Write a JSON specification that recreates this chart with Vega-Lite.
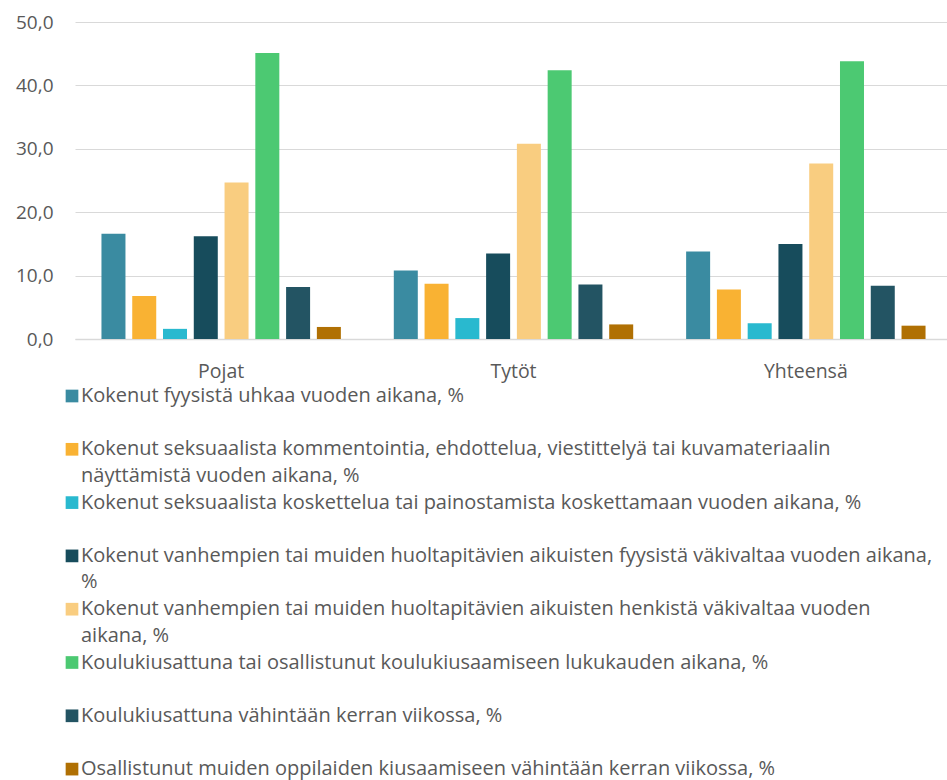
{
  "$schema": "https://vega.github.io/schema/vega-lite/v6.json",
  "width": 872,
  "height": 317,
  "padding": {"left": 5, "top": 13, "right": 0, "bottom": 0},
  "background": "white",
  "data": {
    "values": [
      {"group": "Pojat", "series": "Kokenut fyysistä uhkaa vuoden aikana, %", "value": 16.6},
      {"group": "Pojat", "series": "Kokenut seksuaalista kommentointia, ehdottelua, viestittelyä tai kuvamateriaalin näyttämistä vuoden aikana, %", "value": 6.8},
      {"group": "Pojat", "series": "Kokenut seksuaalista koskettelua tai painostamista koskettamaan vuoden aikana, %", "value": 1.6},
      {"group": "Pojat", "series": "Kokenut vanhempien tai muiden huoltapitävien aikuisten fyysistä väkivaltaa vuoden aikana, %", "value": 16.2},
      {"group": "Pojat", "series": "Kokenut vanhempien tai muiden huoltapitävien aikuisten henkistä väkivaltaa vuoden aikana, %", "value": 24.7},
      {"group": "Pojat", "series": "Koulukiusattuna tai osallistunut koulukiusaamiseen lukukauden aikana, %", "value": 45.1},
      {"group": "Pojat", "series": "Koulukiusattuna vähintään kerran viikossa, %", "value": 8.2},
      {"group": "Pojat", "series": "Osallistunut muiden oppilaiden kiusaamiseen vähintään kerran viikossa, %", "value": 1.9},
      {"group": "Tytöt", "series": "Kokenut fyysistä uhkaa vuoden aikana, %", "value": 10.8},
      {"group": "Tytöt", "series": "Kokenut seksuaalista kommentointia, ehdottelua, viestittelyä tai kuvamateriaalin näyttämistä vuoden aikana, %", "value": 8.7},
      {"group": "Tytöt", "series": "Kokenut seksuaalista koskettelua tai painostamista koskettamaan vuoden aikana, %", "value": 3.3},
      {"group": "Tytöt", "series": "Kokenut vanhempien tai muiden huoltapitävien aikuisten fyysistä väkivaltaa vuoden aikana, %", "value": 13.5},
      {"group": "Tytöt", "series": "Kokenut vanhempien tai muiden huoltapitävien aikuisten henkistä väkivaltaa vuoden aikana, %", "value": 30.8},
      {"group": "Tytöt", "series": "Koulukiusattuna tai osallistunut koulukiusaamiseen lukukauden aikana, %", "value": 42.4},
      {"group": "Tytöt", "series": "Koulukiusattuna vähintään kerran viikossa, %", "value": 8.6},
      {"group": "Tytöt", "series": "Osallistunut muiden oppilaiden kiusaamiseen vähintään kerran viikossa, %", "value": 2.3},
      {"group": "Yhteensä", "series": "Kokenut fyysistä uhkaa vuoden aikana, %", "value": 13.8},
      {"group": "Yhteensä", "series": "Kokenut seksuaalista kommentointia, ehdottelua, viestittelyä tai kuvamateriaalin näyttämistä vuoden aikana, %", "value": 7.8},
      {"group": "Yhteensä", "series": "Kokenut seksuaalista koskettelua tai painostamista koskettamaan vuoden aikana, %", "value": 2.5},
      {"group": "Yhteensä", "series": "Kokenut vanhempien tai muiden huoltapitävien aikuisten fyysistä väkivaltaa vuoden aikana, %", "value": 15.0},
      {"group": "Yhteensä", "series": "Kokenut vanhempien tai muiden huoltapitävien aikuisten henkistä väkivaltaa vuoden aikana, %", "value": 27.7},
      {"group": "Yhteensä", "series": "Koulukiusattuna tai osallistunut koulukiusaamiseen lukukauden aikana, %", "value": 43.8},
      {"group": "Yhteensä", "series": "Koulukiusattuna vähintään kerran viikossa, %", "value": 8.4},
      {"group": "Yhteensä", "series": "Osallistunut muiden oppilaiden kiusaamiseen vähintään kerran viikossa, %", "value": 2.1}
    ]
  },
  "mark": {"type": "bar"},
  "encoding": {
    "x": {
      "field": "group",
      "type": "nominal",
      "sort": ["Pojat", "Tytöt", "Yhteensä"],
      "scale": {"paddingInner": 0, "paddingOuter": 0, "range": [0, 877]},
      "axis": {
        "title": null,
        "labelAngle": 0,
        "ticks": false,
        "domainColor": "#D9D9D9",
        "domainWidth": 1.5,
        "labelPadding": 23,
        "labelFont": "Open Sans",
        "labelFontSize": 19.5,
        "labelColor": "#595959"
      }
    },
    "xOffset": {
      "field": "series",
      "type": "nominal",
      "sort": null,
      "scale": {"paddingInner": 0.22, "paddingOuter": 0.86}
    },
    "y": {
      "field": "value",
      "type": "quantitative",
      "scale": {"domain": [0, 50], "nice": false},
      "axis": {
        "title": null,
        "values": [0, 10, 20, 30, 40, 50],
        "labelExpr": "replace(format(datum.value, '.1f'), '.', ',')",
        "domain": false,
        "ticks": false,
        "gridColor": "#D9D9D9",
        "gridWidth": 1,
        "labelPadding": 22,
        "minExtent": 70,
        "maxExtent": 70,
        "labelFont": "Open Sans",
        "labelFontSize": 19,
        "labelColor": "#595959"
      }
    },
    "color": {
      "field": "series",
      "type": "nominal",
      "sort": null,
      "scale": {
        "domain": [
          "Kokenut fyysistä uhkaa vuoden aikana, %",
          "Kokenut seksuaalista kommentointia, ehdottelua, viestittelyä tai kuvamateriaalin näyttämistä vuoden aikana, %",
          "Kokenut seksuaalista koskettelua tai painostamista koskettamaan vuoden aikana, %",
          "Kokenut vanhempien tai muiden huoltapitävien aikuisten fyysistä väkivaltaa vuoden aikana, %",
          "Kokenut vanhempien tai muiden huoltapitävien aikuisten henkistä väkivaltaa vuoden aikana, %",
          "Koulukiusattuna tai osallistunut koulukiusaamiseen lukukauden aikana, %",
          "Koulukiusattuna vähintään kerran viikossa, %",
          "Osallistunut muiden oppilaiden kiusaamiseen vähintään kerran viikossa, %"
        ],
        "range": ["#3A8BA1", "#F9B233", "#29B9CF", "#174C5C", "#F9CD80", "#4CC972", "#235463", "#B07003"]
      },
      "legend": {
        "title": null,
        "orient": "none",
        "legendX": -13,
        "legendY": 364,
        "direction": "vertical",
        "columns": 1,
        "padding": 0,
        "symbolType": "square",
        "symbolSize": 161,
        "symbolStrokeWidth": 0,
        "symbolOpacity": 1,
        "labelOffset": -1,
        "labelLimit": 900,
        "labelFont": "Open Sans",
        "labelFontSize": 20,
        "labelColor": "#595959",
        "rowPadding": 6.3,
        "labelExpr": "slice(split(replace(replace(replace(datum.label, 'kuvamateriaalin ', 'kuvamateriaalin|'), 'fyysistä väkivaltaa vuoden aikana, ', 'fyysistä väkivaltaa vuoden aikana,|'), 'henkistä väkivaltaa vuoden ', 'henkistä väkivaltaa vuoden|') + '|', '|'), 0, 2)",
        "encode": {
          "labels": {"update": {"lineHeight": {"value": 26.5}}}
        }
      }
    }
  },
  "config": {
    "view": {"stroke": null},
    "font": "Open Sans"
  }
}
